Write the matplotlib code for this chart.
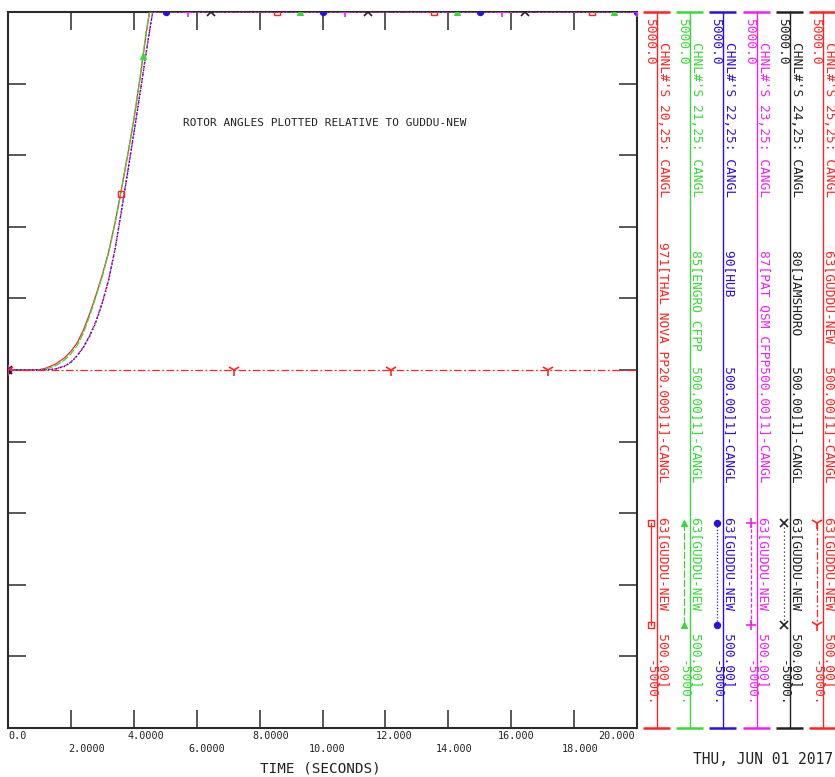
import matplotlib
matplotlib.use('Agg')
import matplotlib.pyplot as plt
import numpy as np

W, H = 835, 777
FONT = 'DejaVu Sans Mono'

# ---------------- data ----------------
time_s = [0.0, 0.5, 1.0, 1.2, 1.5, 1.8, 2.0, 2.2, 2.4, 2.6, 2.8, 3.0, 3.2,
          3.4, 3.6, 3.8, 4.0, 4.2, 4.4, 4.5, 4.6, 4.8, 20.0]
ch20 = [0, 0, 5, 25, 80, 170, 260, 380, 560, 790, 1050, 1330, 1650,
        2050, 2510, 2990, 3490, 4080, 4720, 5000, 5000, 5000, 5000]
ch21 = [0, 0, 2, 15, 55, 140, 225, 340, 520, 760, 1030, 1310, 1640,
        2040, 2500, 2990, 3500, 4090, 4740, 5000, 5000, 5000, 5000]
ch22 = [0, 0, 0, 3, 15, 55, 110, 200, 320, 480, 680, 940, 1260,
        1680, 2200, 2750, 3300, 3870, 4450, 4730, 5000, 5000, 5000]
ch23 = [0, 0, 0, 3, 15, 55, 112, 205, 325, 485, 690, 950, 1270,
        1690, 2210, 2760, 3310, 3880, 4460, 4740, 5000, 5000, 5000]
ch24 = [0, 0, 0, 2, 12, 50, 105, 195, 315, 470, 670, 930, 1250,
        1670, 2190, 2740, 3290, 3860, 4440, 4720, 5000, 5000, 5000]
ch25_time = [0.0, 20.0]
ch25 = [0.0, 0.0]

mk20 = [0.0, 3.58, 8.55, 13.55, 18.57]
mk21 = [0.0, 4.29, 9.28, 14.28, 19.27]
mk22 = [0.0, 5.02, 10.0, 15.0, 20.0]
mk23 = [0.0, 5.72, 10.7, 15.7, 20.0]
mk24 = [0.0, 6.45, 11.45, 16.44]
mk25 = [0.0, 7.19, 12.18, 17.17]

chan_nums = ['20', '21', '22', '23', '24', '25']
bus_labels = ["971[THAL NOVA PP20.000]1]-CANGL",
              "85[ENGRO CFPP  500.00]1]-CANGL",
              "90[HUB         500.00]1]-CANGL",
              "87[PAT QSM CFPP500.00]1]-CANGL",
              "80[JAMSHORO    500.00]1]-CANGL",
              "63[GUDDU-NEW   500.00]1]-CANGL"]
ref_label = "63[GUDDU-NEW   500.00]"
y_max_label = "5000.0"
y_min_label = "-5000."
x_ticks = [0, 2, 4, 6, 8, 10, 12, 14, 16, 18, 20]
x_tick_labels = ['0.0', '2.0000', '4.0000', '6.0000', '8.0000', '10.000',
                 '12.000', '14.000', '16.000', '18.000', '20.000']
title_text = "ROTOR ANGLES PLOTTED RELATIVE TO GUDDU-NEW"
xlabel_text = "TIME (SECONDS)"
date_text = "THU, JUN 01 2017"

# ---------------- styles ----------------
colors = ['#ff2424', '#3ad83a', '#2a10e0', '#ee22ee', '#222222', '#ff2424']
styles = [dict(ls='-'),
          dict(ls=(0, (6, 1.5))),
          dict(ls=(0, (1, 1.5))),
          dict(ls=(0, (3, 1.6))),
          dict(ls=(0, (1, 2.2))),
          dict(ls=(0, (6, 2, 1.5, 2)))]
mstyles = [dict(marker='s', mfc='none', ms=5, mew=1.0),
           dict(marker='^', ms=5, mew=0.8),
           dict(marker='o', ms=4.5, mew=0.8),
           dict(marker='+', ms=7, mew=1.2),
           dict(marker='x', ms=6, mew=1.2),
           dict(marker='1', ms=9, mew=1.2)]

series = [(time_s, ch20, mk20), (time_s, ch21, mk21), (time_s, ch22, mk22),
          (time_s, ch23, mk23), (time_s, ch24, mk24), (ch25_time, ch25, mk25)]

fig = plt.figure(figsize=(W / 100, H / 100), dpi=100)
L, R, T, B = 8, 637, 12, 728
ax = fig.add_axes([L / W, 1 - B / H, (R - L) / W, (B - T) / H])
ax.set_xlim(0, 20)
ax.set_ylim(-5000, 5000)

spine_c = '#2a2a2a'
for s in ax.spines.values():
    s.set_color(spine_c)
    s.set_linewidth(1.5)
ax.set_xticks(x_ticks)
ax.set_xticklabels([])
ax.set_yticks(np.arange(-5000, 5001, 1000))
ax.set_yticklabels([])
ax.tick_params(direction='in', length=13, width=1.1, color=spine_c,
               top=True, right=True, bottom=True, left=True)

order = [5, 0, 1, 2, 3, 4]
for i in order:
    tt, vv, mk = series[i]
    ax.plot(tt, vv, color=colors[i], lw=0.9, zorder=3 + i, **styles[i])
    my = np.interp(mk, tt, vv)
    ax.plot(mk, my, ls='none', color=colors[i], mec=colors[i],
            zorder=10 + i, **mstyles[i])

# ---------------- overlay in pixel coords ----------------
ov = fig.add_axes([0, 0, 1, 1], zorder=20)
ov.set_xlim(0, W)
ov.set_ylim(H, 0)
ov.axis('off')
ov.patch.set_alpha(0)

ov.text(183, 123, title_text, fontsize=8, family=FONT,
        ha='left', va='center', color='#222222')

# x tick labels (two alternating rows)
offsets = [0, 16, 12, 10, 11, 4.5, 9, 6, 5, 6, 0]
for k, (xv, lab) in enumerate(zip(x_ticks, x_tick_labels)):
    px = L + (R - L) * xv / 20.0
    row_y = 736 if k % 2 == 0 else 748.5
    if k == 0:
        ha = 'left'
    elif k == len(x_ticks) - 1:
        ha = 'right'
        px -= 2
    else:
        ha = 'center'
        px += offsets[k]
    ov.text(px, row_y, lab, fontsize=7.3, family=FONT, ha=ha, va='center',
            color='#222222')

ov.text(320, 762, xlabel_text, fontsize=10.3, family=FONT, ha='center',
        va='top', color='#222222')
ov.text(833, 759, date_text, fontsize=10.5, family=FONT, ha='right',
        va='center', color='#222222')

# legend columns
col_x = [657, 690, 723, 757, 790, 823]
seg_top, seg_bot = 523, 625
fs = 9.3
for i, vx in enumerate(col_x):
    c = colors[i]
    ov.plot([vx - 14, vx + 13], [T, T], color=c, lw=1.8, solid_capstyle='butt')
    ov.plot([vx - 14, vx + 13], [B, B], color=c, lw=1.8, solid_capstyle='butt')
    ov.plot([vx, vx], [T, B], color=c, lw=1.0)
    lx = vx - 7
    rx = vx + 6.5
    kw = dict(fontsize=fs, family=FONT, color=c, rotation=270,
              rotation_mode='anchor', va='center')
    ov.text(lx, 18, y_max_label, ha='left', **kw)
    ov.text(lx, 706, y_min_label, ha='right', **kw)
    ov.text(rx, 42, "CHNL#'S %s,25: CANGL" % chan_nums[i], ha='left', **kw)
    ov.text(rx, 482, bus_labels[i], ha='right', **kw)
    ov.text(rx, 517, ref_label, ha='left', **kw)
    sx = vx - 6
    ov.plot([sx, sx], [seg_top, seg_bot], color=c, lw=0.9, **styles[i])
    ms = dict(mstyles[i])
    ov.plot([sx, sx], [seg_top, seg_bot], ls='none', color=c, mec=c, **ms)

fig.savefig('out.png', dpi=100, facecolor='white')
